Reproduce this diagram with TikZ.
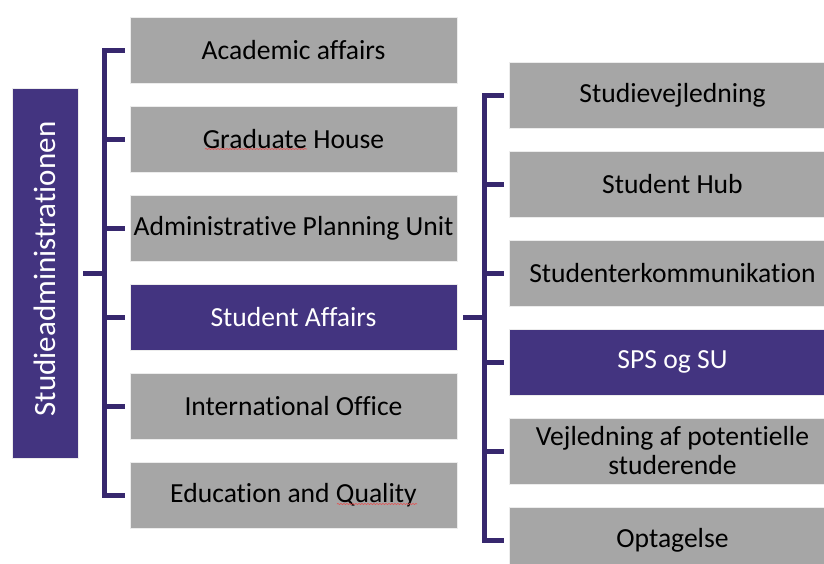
\documentclass[tikz,border=0pt]{standalone}
\usepackage{fontspec}
\setmainfont{Carlito}[Ligatures=NoCommon]
\usetikzlibrary{decorations.pathmorphing}
\definecolor{boxpurple}{RGB}{67,52,128}
\definecolor{linepurple}{RGB}{55,40,110}
\definecolor{boxgray}{RGB}{166,166,166}
\definecolor{squig}{RGB}{230,80,80}
\tikzset{
  base/.style={minimum height=66pt, inner sep=0pt, draw=white!85!gray, line width=0.6pt, align=center,
    font=\fontsize{27.6}{29}\selectfont},
  graybox/.style={base, fill=boxgray, text=black},
  purplebox/.style={base, fill=boxpurple, text=white},
  midbox/.style={minimum width=327pt},
  rightbox/.style={minimum width=327pt},
  conn/.style={draw=linepurple, line width=5pt},
  spell/.style={draw=squig, line width=0.6pt, decorate, decoration={snake, amplitude=0.6pt, segment length=3pt}}
}
\begin{document}
\begin{tikzpicture}[x=1pt, y=-1pt]
\useasboundingbox (0,0) rectangle (824,563);
% root
\node[purplebox, minimum width=66pt, minimum height=370pt] (root) at (45,273) {};
\node[text=white, rotate=90, font=\fontsize{31}{36}\selectfont, inner sep=0pt] (roottext) at (45,269) {Studieadministrationen};
% middle column
\node[graybox, midbox] (m1) at (293.5,50) {Academic affairs};
\node[graybox, midbox] (m2) at (293.5,139) {Graduate House};
\node[graybox, midbox] (m3) at (293.5,228) {Administrative Planning Unit};
\node[purplebox, midbox] (m4) at (293.5,317) {Student Affairs};
\node[graybox, midbox] (m5) at (293.5,406) {International Office};
\node[graybox, midbox] (m6) at (293.5,495) {Education and Quality};
% right column
\node[graybox, rightbox] (r1) at (672.5,95) {Studievejledning};
\node[graybox, rightbox] (r2) at (672.5,184) {Student Hub};
\node[graybox, rightbox] (r3) at (672.5,273) {Studenterkommunikation};
\node[purplebox, rightbox] (r4) at (672.5,362) {SPS og SU};
\node[graybox, rightbox] (r5) at (672.5,451) {Vejledning af potentielle\\studerende};
\node[graybox, rightbox] (r6) at (672.5,540) {Optagelse};
% buses
\coordinate (busL) at (104,273);
\coordinate (busR) at (484,317);
\draw[conn] ([xshift=5pt]root.east) -- (busL);
\foreach \n in {m1,m2,m3,m4,m5,m6}
  \draw[conn] ([xshift=-5pt]\n.west) -| (busL);
\draw[conn] ([xshift=6pt]m4.east) -- (busR);
\foreach \n in {r1,r2,r3,r4,r5,r6}
  \draw[conn] ([xshift=-5pt]\n.west) -| (busR);
% spell-check underlines
\draw[spell] (205,149) -- (307,149);
\draw[spell] (337,504) -- (417,504);
\end{tikzpicture}
\end{document}
